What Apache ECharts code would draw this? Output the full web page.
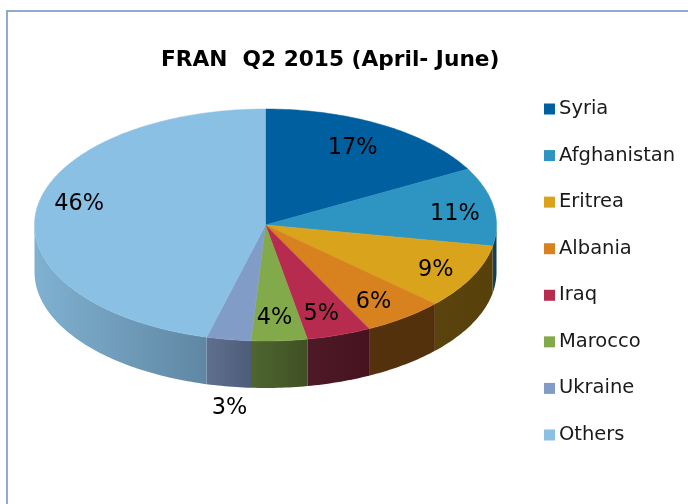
<!DOCTYPE html>
<html>
<head>
<meta charset="utf-8">
<style>html,body{margin:0;padding:0;background:#fff}#c{width:688px;height:504px}</style>
<script src="https://cdn.jsdelivr.net/npm/echarts@6/dist/echarts.min.js"></script>
</head>
<body>
<div id="c"></div>
<script>
const categories = ['Syria','Afghanistan','Eritrea','Albania','Iraq','Marocco','Ukraine','Others'];
const shares = [17, 10.9, 9, 5.7, 4.5, 3.9, 3.1, 45.9];
const topColors = ['#00609f','#2e95c2','#d9a41b','#d8811f','#b72c4e','#83aa4a','#819dc7','#8ac0e3'];
const wallLeft = ['#00406a','#17445f','#5a430c','#55320e','#4f1a28','#4f6630','#5f708f','#80b1d1'];
const wallRight = ['#00406a','#0e3a55','#57400a','#52300c','#47121f','#3f5024','#4d5c78','#5f87a3'];

// pie geometry (tilted disc)
const cx = 265.5, cy = 225, rx = 231, ry = 116, depth = 47;
const labelRadius = 0.8, outsideBelow = 3.5;
const labelNudge = [[-7,3],[7,4],[5,4],[-3,3],[-3,1],[-2,1],[2,2],[-3,-9]];

const total = shares.reduce((a, b) => a + b, 0);
const startShare = shares.map((_, i) => shares.slice(0, i).reduce((a, b) => a + b, 0));
const pt = (deg, dy) => {
  const t = deg * Math.PI / 180;
  return [cx + rx * Math.sin(t), cy - ry * Math.cos(t) + (dy || 0)];
};
const arc = (a0, a1, dy) => {
  const n = Math.max(2, Math.ceil(Math.abs(a1 - a0)));
  const out = [];
  for (let k = 0; k <= n; k++) out.push(pt(a0 + (a1 - a0) * k / n, dy));
  return out;
};

function renderSlice(i, api) {
  const value = api.value(0);
  const a0 = startShare[i] / total * 360;
  const a1 = a0 + value / total * 360;
  const children = [];
  const w0 = Math.max(a0, 90), w1 = Math.min(a1, 270);
  if (w1 > w0) {
    children.push({
      type: 'polygon', z2: 1,
      shape: { points: arc(w0, w1, 0).concat(arc(w1, w0, depth)) },
      style: {
        fill: { type: 'linear', x: 0, y: 0, x2: 1, y2: 0, colorStops: [
          { offset: 0, color: wallLeft[i] }, { offset: 1, color: wallRight[i] }
        ] }
      }
    });
  }
  children.push({
    type: 'polygon', z2: 2,
    shape: { points: [[cx, cy]].concat(arc(a0, a1, 0)) },
    style: { fill: topColors[i], stroke: topColors[i], lineWidth: 0.5 }
  });
  const mid = (a0 + a1) / 2, t = mid * Math.PI / 180;
  let lx, ly;
  if (value < outsideBelow) {
    lx = cx + rx * Math.sin(t) * 1.03 + labelNudge[i][0];
    ly = cy - ry * Math.cos(t) + depth + 20 + labelNudge[i][1];
  } else {
    lx = cx + rx * Math.sin(t) * labelRadius + labelNudge[i][0];
    ly = cy - ry * Math.cos(t) * labelRadius + labelNudge[i][1];
  }
  children.push({
    type: 'text', z2: 3,
    style: {
      x: lx, y: ly, text: Math.round(value) + '%',
      fill: '#000', font: '22.4px "DejaVu Sans"', align: 'center', verticalAlign: 'middle'
    }
  });
  return { type: 'group', children };
}

const chart = echarts.init(document.getElementById('c'), null, { renderer: 'canvas' });
chart.setOption({
  animation: false,
  backgroundColor: '#fff',
  title: {
    text: 'FRAN  Q2 2015 (April- June)',
    left: 156, top: 44,
    textStyle: { fontFamily: '"DejaVu Sans"', fontSize: 21.7, fontWeight: 'bold', color: '#000' }
  },
  legend: {
    orient: 'vertical', left: 539, top: 94,
    icon: 'rect', itemWidth: 11, itemHeight: 11, itemGap: 26.57,
    selectedMode: false,
    data: categories,
    textStyle: { fontFamily: '"DejaVu Sans"', fontSize: 19.5, color: '#1a1a1a', padding: [0,0,0,-1] }
  },
  graphic: [{
    type: 'polyline', silent: true,
    shape: { points: [[7, 520], [7, 11], [700, 11]] },
    style: { stroke: '#8eaacf', lineWidth: 2, fill: null }
  }],
  series: categories.map((name, i) => ({
    type: 'custom', name, coordinateSystem: 'none', silent: true,
    itemStyle: { color: topColors[i] },
    data: [[shares[i]]],
    renderItem: (params, api) => renderSlice(i, api)
  }))
});
</script>
</body>
</html>
